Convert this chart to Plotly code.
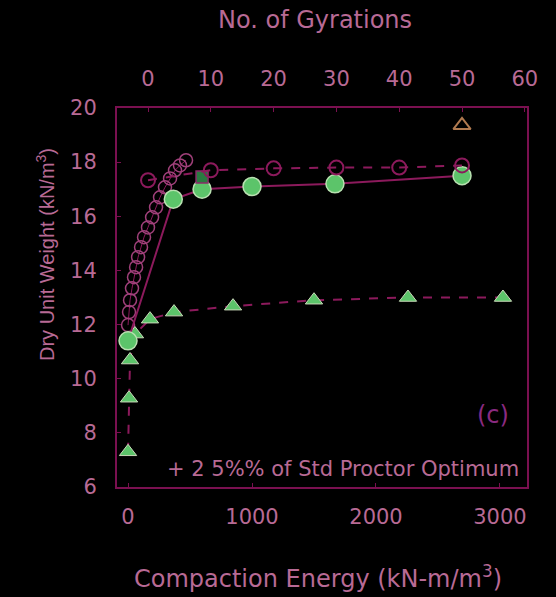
import plotly.graph_objects as go

# Green filled circles, solid line (vs compaction energy)
circ_E = [0, 365, 597, 1000, 1669, 2694]
circ_Y = [11.4, 16.63, 17.0, 17.1, 17.2, 17.5]

# Green filled triangles, dashed line (vs compaction energy)
tri_E = [0, 8, 16, 56, 177, 371, 847, 1500, 2258, 3024]
tri_Y = [7.3, 9.28, 10.69, 11.65, 12.2, 12.46, 12.68, 12.9, 13.0, 13.0]

# Dense open circles (vs compaction energy)
dense_E = [0, 8, 16, 32, 48, 65, 81, 105, 129, 161, 194, 226, 258, 298, 339, 379, 419, 468]
dense_Y = [11.98, 12.46, 12.9, 13.34, 13.75, 14.12, 14.49, 14.86, 15.23, 15.59, 15.96,
           16.33, 16.7, 17.07, 17.4, 17.7, 17.88, 18.07]

# Open circles, dashed line (vs number of gyrations)
gyr_N = [0, 10, 20, 30, 40, 50]
gyr_Y = [17.33, 17.7, 17.77, 17.8, 17.8, 17.88]

# Single open triangle (vs gyrations)
single_N = [50]
single_Y = [19.36]

# Square marker (vs energy)
sq_E = [597]
sq_Y = [17.45]

x_ticks = [0, 1000, 2000, 3000]
x2_ticks = [0, 10, 20, 30, 40, 50, 60]
y_ticks = [6, 8, 10, 12, 14, 16, 18, 20]

LINE = "#8c1a5c"
GREEN = "#5cc46a"
TXT = "#b86a95"
AX = "#7a1050"
WIDE = "DejaVu Sans, Verdana"
NARROW = "Liberation Sans, Arial"

fig = go.Figure()

fig.add_trace(go.Scatter(x=dense_E, y=dense_Y, mode="lines+markers",
                         line=dict(color=LINE, width=1),
                         marker=dict(symbol="circle-open", size=13,
                                     color="#a0407a", line=dict(width=1.5))))
fig.add_trace(go.Scatter(x=tri_E, y=tri_Y, mode="lines+markers",
                         line=dict(color=LINE, width=2, dash="dash"),
                         marker=dict(symbol="triangle-up", size=15, color=GREEN,
                                     line=dict(color="#c8d8b8", width=1))))
fig.add_trace(go.Scatter(x=circ_E, y=circ_Y, mode="lines+markers",
                         line=dict(color=LINE, width=2),
                         marker=dict(symbol="circle", size=18, color=GREEN,
                                     line=dict(color="#b8e0b0", width=1.5))))
fig.add_trace(go.Scatter(x=sq_E, y=sq_Y, mode="markers",
                         marker=dict(symbol="square", size=12, color="#2a7a40",
                                     line=dict(color="#8c2a6a", width=1.5))))
fig.add_trace(go.Scatter(x=gyr_N, y=gyr_Y, mode="lines+markers", xaxis="x2",
                         line=dict(color=LINE, width=2, dash="dash"),
                         marker=dict(symbol="circle-open", size=14,
                                     color="#8c1a5c", line=dict(width=2))))
fig.add_trace(go.Scatter(x=single_N, y=single_Y, mode="markers", xaxis="x2",
                         marker=dict(symbol="triangle-up-open", size=15,
                                     color="#b07a50", line=dict(width=2))))

axis_common = dict(showline=True, linecolor=AX, linewidth=2, ticks="inside",
                   ticklen=4, tickcolor=AX, showgrid=False, zeroline=False,
                   tickfont=dict(family=WIDE, size=21, color=TXT))

fig.update_layout(
    width=556, height=597,
    paper_bgcolor="black", plot_bgcolor="black",
    margin=dict(l=117, r=29, t=108, b=110),
    showlegend=False,
    xaxis=dict(range=[-89, 3218], tickvals=x_ticks, mirror=False,
               ticklabelstandoff=10, **axis_common),
    xaxis2=dict(range=[-4.94, 60.35], tickvals=x2_ticks, overlaying="x",
                side="top", ticklabelstandoff=12, **axis_common),
    yaxis=dict(range=[6, 20], tickvals=y_ticks, mirror=True,
               ticklabelstandoff=14, **axis_common),
)

pw = 556 - 117 - 29
ph = 597 - 108 - 110


def px(xp):
    return (xp - 117) / pw


def py(yp):
    return (487 - yp) / ph


def note(text, x, y, size, family=WIDE, color=TXT, angle=0):
    fig.add_annotation(text=text, x=px(x), y=py(y), xref="paper", yref="paper",
                       xanchor="center", yanchor="middle", showarrow=False,
                       textangle=angle, font=dict(family=family, size=size, color=color))


note("No. of Gyrations", 315, 20, 24)
note("Compaction Energy (kN-m/m<sup>3</sup>)", 318, 577, 24)
note("Dry Unit Weight (kN/m<sup>3</sup>)", 45, 255, 20, family=NARROW, angle=-90)
note("(c)", 493, 415, 24, color="#8a2a80")
note("+ 2 5%% of Std Proctor Optimum", 343, 469, 21)

fig.write_html("out.html", config={"displayModeBar": False},
               post_script="document.body.style.margin='0';document.body.style.background='black';")
